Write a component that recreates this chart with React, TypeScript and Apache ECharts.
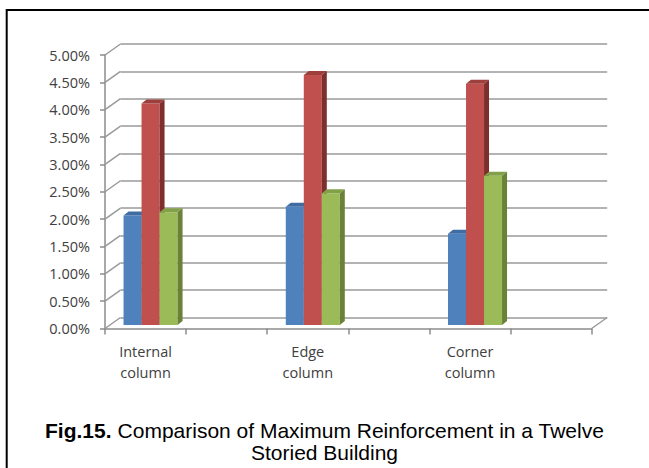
import React, { useEffect, useRef } from "react";
import * as echarts from "echarts";

// ---- data ----
const categories = ["Internal\ncolumn", "", "Edge\ncolumn", "", "Corner\ncolumn", ""];
const seriesNames = ["Series1", "Series2", "Series3"];
const blueValues = [2.0, null, 2.16, null, 1.67, null];
const redValues = [4.05, null, 4.57, null, 4.41, null];
const greenValues = [2.06, null, 2.41, null, 2.73, null];
const yMin = 0;
const yMax = 5;
const yStep = 0.5;
const yTicks = [0, 0.5, 1, 1.5, 2, 2.5, 3, 3.5, 4, 4.5, 5];
const titleBold = "Fig.15.";
const titleLine1 = " Comparison of Maximum Reinforcement in a Twelve";
const titleLine2 = "Storied Building";

// ---- styles ----
const FONT = "Open Sans";
const TITLE_FONT = "Liberation Sans";
const GRID_COLOR = "#9a9a9a";
const AXIS_COLOR = "#8c8c8c";
const LABEL_COLOR = "#404040";
const WALL_DX = 15.5;
const WALL_DY = 11;
const BAR_DX = 5;
const BAR_DY = 4;
const PLOT_W = 486.7;
const PLOT_H = 273.5;
const barColors = [
  { front: "#4F81BD", top: "#3F6CA3", side: "#385D8A" },
  { front: "#C0504D", top: "#9E3F3C", side: "#7E2F2D" },
  { front: "#9BBB59", top: "#82A048", side: "#6A8238" },
];

const toPairs = (vals: (number | null)[]) =>
  vals.map((v, i) => (v == null ? null : [i, v])).filter((d) => d != null);

function makeBarRender(k: number) {
  const c = barColors[k];
  return (params: any, api: any) => {
    const idx = api.value(0);
    const val = api.value(1);
    const top = api.coord([idx, val]);
    const base = api.coord([idx, 0]);
    const band = api.size([1, 0])[0];
    const w = band * 0.222;
    const x = top[0] + (k - 1) * w - w / 2;
    const yT = top[1];
    const yB = base[1];
    return {
      type: "group",
      children: [
        {
          type: "rect",
          shape: { x, y: yT, width: w, height: yB - yT },
          style: { fill: c.front },
        },
        {
          type: "polygon",
          shape: {
            points: [
              [x, yT],
              [x + BAR_DX, yT - BAR_DY],
              [x + w + BAR_DX, yT - BAR_DY],
              [x + w, yT],
            ],
          },
          style: { fill: c.top },
        },
        {
          type: "polygon",
          shape: {
            points: [
              [x + w, yT],
              [x + w + BAR_DX, yT - BAR_DY],
              [x + w + BAR_DX, yB - BAR_DY],
              [x + w, yB],
            ],
          },
          style: { fill: c.side },
        },
      ],
    };
  };
}

export default function App() {
  const ref = useRef<HTMLDivElement>(null);
  useEffect(() => {
    document.body.style.margin = "0";
    const chart = echarts.init(ref.current!, null, { renderer: "svg" });
    const hiddenCat = {
      type: "category",
      data: categories,
      axisLine: { show: false },
      axisTick: { show: false },
      axisLabel: { show: false },
      splitLine: { show: false },
    };
    const option: any = {
      animation: false,
      backgroundColor: "#ffffff",
      title: [
        {
          text: `{b|${titleBold}}{r|${titleLine1}}`,
          left: "center",
          top: 420,
          padding: 0,
          textStyle: {
            rich: {
              b: { fontFamily: TITLE_FONT, fontWeight: "bold", fontSize: 21, color: "#000", lineHeight: 21 },
              r: { fontFamily: TITLE_FONT, fontWeight: "normal", fontSize: 21, color: "#000", lineHeight: 21 },
            },
          },
        },
        {
          text: titleLine2,
          left: "center",
          top: 442,
          padding: 0,
          textStyle: { fontFamily: TITLE_FONT, fontWeight: "normal", fontSize: 21, color: "#000", lineHeight: 21 },
        },
      ],
      graphic: [
        {
          type: "rect",
          shape: { x: 6.7, y: 10, width: 700, height: 500 },
          style: { fill: "none", stroke: "#000", lineWidth: 2 },
          silent: true,
        },
      ],
      grid: [
        { left: 120.5, top: 44, width: PLOT_W, height: PLOT_H, outerBoundsMode: "none" },
        { left: 105, top: 55, width: PLOT_W, height: PLOT_H, outerBoundsMode: "none" },
        { left: 110, top: 51.5, width: PLOT_W, height: PLOT_H, outerBoundsMode: "none" },
      ],
      xAxis: [
        { ...hiddenCat, gridIndex: 0 },
        {
          type: "category",
          gridIndex: 1,
          data: categories,
          axisLine: { show: true, lineStyle: { color: AXIS_COLOR, width: 1.5 } },
          axisTick: { show: true, length: 6, interval: 0, lineStyle: { color: AXIS_COLOR, width: 1.5 } },
          axisLabel: {
            interval: 0,
            margin: 13,
            fontFamily: FONT,
            fontSize: 14.5,
            lineHeight: 20.7,
            color: LABEL_COLOR,
          },
          splitLine: { show: false },
        },
        { ...hiddenCat, gridIndex: 2 },
      ],
      yAxis: [
        {
          type: "value",
          gridIndex: 0,
          min: yMin,
          max: yMax,
          interval: yStep,
          axisLine: { show: false },
          axisTick: { show: false },
          axisLabel: { show: false },
          splitLine: { show: true, lineStyle: { color: GRID_COLOR, width: 1.5 } },
        },
        {
          type: "value",
          gridIndex: 1,
          min: yMin,
          max: yMax,
          interval: yStep,
          axisLine: { show: true, lineStyle: { color: AXIS_COLOR, width: 1.5 } },
          axisTick: { show: true, length: 5, lineStyle: { color: AXIS_COLOR, width: 1.5 } },
          axisLabel: {
            margin: 15,
            fontFamily: FONT,
            fontSize: 14.5,
            color: LABEL_COLOR,
            formatter: (v: number) => v.toFixed(2) + "%",
          },
          splitLine: { show: false },
        },
        {
          type: "value",
          gridIndex: 2,
          min: yMin,
          max: yMax,
          interval: yStep,
          show: true,
          axisLine: { show: false },
          axisTick: { show: false },
          axisLabel: { show: false },
          splitLine: { show: false },
        },
      ],
      series: [
        {
          type: "custom",
          name: "sideWall",
          xAxisIndex: 1,
          yAxisIndex: 1,
          silent: true,
          z: 1,
          data: yTicks.map((t) => [0, t]),
          renderItem: (params: any, api: any) => {
            const p = api.coord([0, api.value(1)]);
            const half = api.size([1, 0])[0] / 2;
            const x0 = p[0] - half;
            return {
              type: "line",
              shape: { x1: x0, y1: p[1], x2: x0 + WALL_DX, y2: p[1] - WALL_DY },
              style: { stroke: GRID_COLOR, lineWidth: 1.5 },
            };
          },
        },
        {
          type: "custom",
          name: "floorEdge",
          xAxisIndex: 1,
          yAxisIndex: 1,
          silent: true,
          z: 1,
          data: [[categories.length - 1, yMin]],
          renderItem: (params: any, api: any) => {
            const p = api.coord([api.value(0), api.value(1)]);
            const half = api.size([1, 0])[0] / 2;
            const x0 = p[0] + half;
            return {
              type: "line",
              shape: { x1: x0, y1: p[1], x2: x0 + WALL_DX, y2: p[1] - WALL_DY },
              style: { stroke: GRID_COLOR, lineWidth: 1.5 },
            };
          },
        },
        ...[blueValues, redValues, greenValues].map((vals, k) => ({
          type: "custom",
          name: seriesNames[k],
          xAxisIndex: 2,
          yAxisIndex: 2,
          z: 3 + k,
          data: toPairs(vals),
          renderItem: makeBarRender(k),
        })),
      ],
    };
    chart.setOption(option);
    return () => chart.dispose();
  }, []);
  return (
    <div
      ref={ref}
      style={{ position: "absolute", left: 0, top: 0, width: 649, height: 468, background: "#fff" }}
    />
  );
}
